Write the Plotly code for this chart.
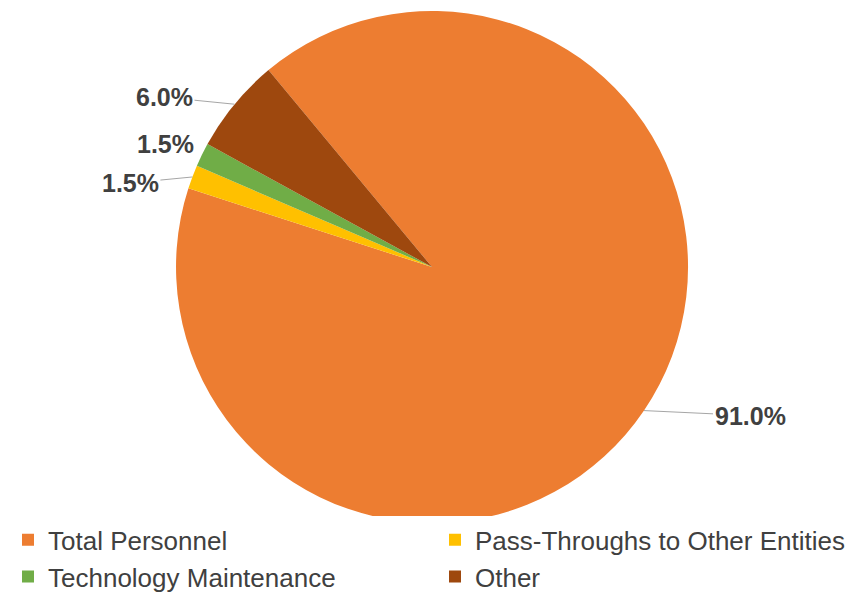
import numpy as np
import plotly.graph_objects as go

categories = ["Total Personnel", "Pass-Throughs to Other Entities", "Technology Maintenance", "Other"]
values = [91.0, 1.5, 1.5, 6.0]
label_texts = ["91.0%", "1.5%", "1.5%", "6.0%"]

colors = ["#ED7D31", "#FFC000", "#70AD47", "#9E480E"]
W, H = 866, 596
rotation = 320.3
dom_x = [0.1940, 0.7853]
dom_y = [0.1358, 0.9949]
# label offsets (px) from slice edge to label centre, and leader-line flags
offsets = [(106, 5), (-62, 6), (-36, -11), (-70, -7)]
show_line = [True, True, False, True]

fig = go.Figure(go.Pie(
    labels=categories, values=values, sort=False, direction="clockwise",
    rotation=rotation, textinfo="none", hoverinfo="label+percent",
    marker=dict(colors=colors, line=dict(width=0)),
    domain=dict(x=dom_x, y=dom_y),
))

# slice mid-angles from the data
cx = (dom_x[0] + dom_x[1]) / 2 * W
cy = (dom_y[0] + dom_y[1]) / 2 * H
r = min((dom_x[1] - dom_x[0]) * W, (dom_y[1] - dom_y[0]) * H) / 2
tot = sum(values)
start = rotation
for v, txt, (ox, oy), sl in zip(values, label_texts, offsets, show_line):
    span = v / tot * 360
    mid = np.radians(start + span / 2)
    start += span
    px = cx + r * np.sin(mid)
    py = cy + r * np.cos(mid)
    fig.add_annotation(
        x=px / W, y=py / H, xref="paper", yref="paper",
        text="<b>" + txt + "</b>", showarrow=True, arrowhead=0,
        arrowwidth=1, arrowcolor="#A6A6A6" if sl else "rgba(0,0,0,0)",
        ax=ox, ay=oy, font=dict(size=25, color="#404040", family="Liberation Sans"),
    )

fig.update_layout(
    width=W, height=H, margin=dict(l=0, r=0, t=0, b=0, autoexpand=False),
    paper_bgcolor="white", plot_bgcolor="white",
    font=dict(family="Liberation Sans", color="#404040"),
    legend=dict(orientation="h", x=0.0, xanchor="left", y=0.147, yanchor="top",
                entrywidth=382, entrywidthmode="pixels",
                font=dict(size=26, color="#404040"), traceorder="normal",
                itemclick=False),
)
fig.write_html("out.html")
